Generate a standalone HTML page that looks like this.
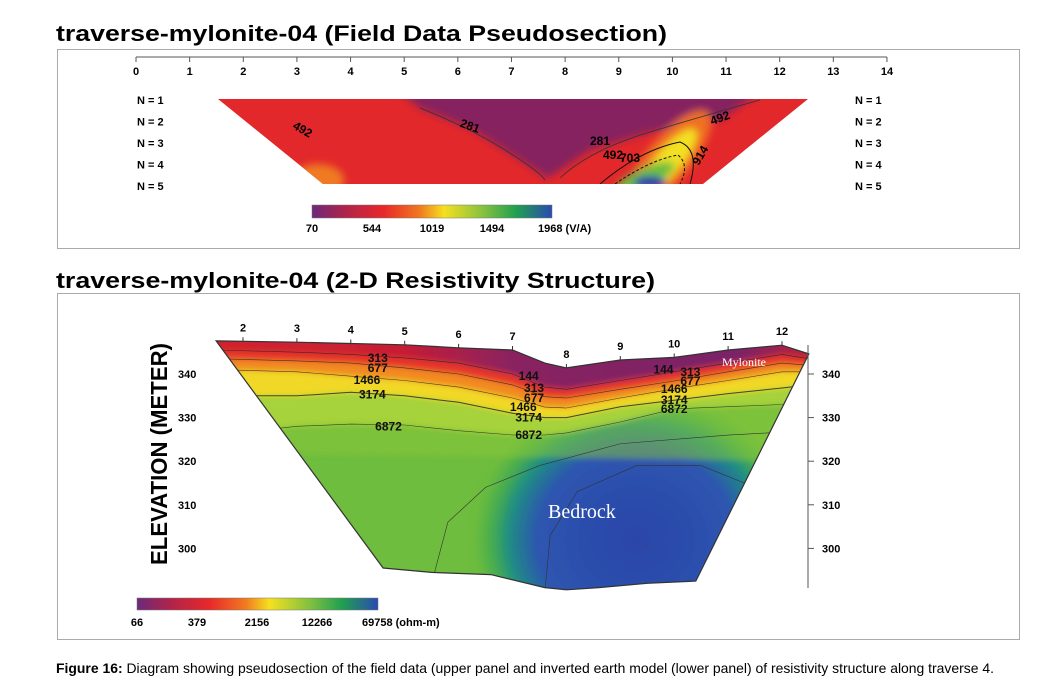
<!DOCTYPE html>
<html><head><meta charset="utf-8"><style>
html,body{margin:0;padding:0;background:#fff;}
svg{display:block;font-family:"Liberation Sans",Arial,sans-serif;}
</style></head><body>
<svg id="fig" width="1048" height="697" viewBox="0 0 1048 697" xmlns="http://www.w3.org/2000/svg">
<defs>
<linearGradient id="cb1" x1="0" x2="1" y1="0" y2="0">
<stop offset="0" stop-color="#6b2a7a"/><stop offset="0.14" stop-color="#b0244a"/><stop offset="0.3" stop-color="#e8282a"/><stop offset="0.45" stop-color="#f07a20"/><stop offset="0.55" stop-color="#f5e020"/><stop offset="0.72" stop-color="#80c040"/><stop offset="0.85" stop-color="#20a050"/><stop offset="1" stop-color="#2a4ab0"/></linearGradient>
<linearGradient id="topband" x1="0" x2="1" y1="0" y2="0">
<stop offset="0" stop-color="#d4222c"/><stop offset="0.35" stop-color="#c81f34"/><stop offset="0.5" stop-color="#8a2060"/><stop offset="0.8" stop-color="#7a2468"/><stop offset="0.9" stop-color="#c02038"/><stop offset="1" stop-color="#f08020"/></linearGradient>
<radialGradient id="bed" cx="0.5" cy="0.5" r="0.5">
<stop offset="0" stop-color="#2b45a8"/><stop offset="0.6" stop-color="#2d55b0"/><stop offset="0.78" stop-color="#1e8f82"/><stop offset="0.9" stop-color="#3aa852" stop-opacity="0.6"/><stop offset="1" stop-color="#50b448" stop-opacity="0"/></radialGradient>
<filter id="blur" x="-10%" y="-10%" width="120%" height="120%"><feGaussianBlur stdDeviation="4"/></filter>
<filter id="blur2" x="-10%" y="-10%" width="120%" height="120%"><feGaussianBlur stdDeviation="3"/></filter>
<clipPath id="trap"><polygon points="218,99 808,99 703,184 323,184"/></clipPath>
<clipPath id="sect"><path id="sectclip" d=""/></clipPath>
</defs>

<!-- top panel -->
<text x="56" y="41" font-size="22" font-weight="bold" textLength="611" lengthAdjust="spacingAndGlyphs">traverse-mylonite-04 (Field Data Pseudosection)</text>
<rect x="57.5" y="49.5" width="962" height="199" fill="none" stroke="#aaa"/>
<g id="topaxis"></g>
<g clip-path="url(#trap)">
<rect x="200" y="90" width="620" height="100" fill="#e2282b"/>
<g filter="url(#blur)">
<polygon points="400,92 760,92 720,120 650,132 590,150 548,178 505,150 470,128 420,108" fill="#85205e"/>
<ellipse cx="318" cy="180" rx="26" ry="16" fill="#f07a22"/>
<ellipse cx="668" cy="160" rx="62" ry="22" transform="rotate(-50 668 160)" fill="#f07020"/>
<ellipse cx="668" cy="162" rx="42" ry="13" transform="rotate(-50 668 162)" fill="#f2e020"/>
<ellipse cx="645" cy="178" rx="32" ry="10" transform="rotate(-25 645 178)" fill="#6cbf3c"/>
<ellipse cx="650" cy="183" rx="16" ry="7" fill="#2a3aa8"/>
</g>
<path d="M420,108 Q470,128 505,150 T545,180 M560,178 Q590,150 650,132 T760,100" fill="none" stroke="#333" stroke-width="0.8"/>
<path d="M600,184 Q640,150 680,142 Q700,150 690,184" fill="none" stroke="#111" stroke-width="1"/>
<path d="M615,184 Q650,160 678,155 Q690,165 680,184" fill="none" stroke="#111" stroke-width="1" stroke-dasharray="3,2"/>
</g>
<g font-size="12" font-weight="bold">
<text x="293" y="132" transform="rotate(30 300 128)">492</text>
<text x="460" y="130" transform="rotate(20 470 126)">281</text>
<text x="590" y="145">281</text>
<text x="603" y="159">492</text>
<text x="620" y="162">703</text>
<text x="690" y="163" transform="rotate(-60 697 157)">914</text>
<text x="710" y="122" transform="rotate(-20 720 118)">492</text>
</g>
<g id="nlabels" font-size="11" font-weight="bold"></g>
<rect x="312" y="205" width="240" height="13" fill="url(#cb1)" stroke="#777" stroke-width="0.5"/>
<g id="cb1lab" font-size="11" font-weight="bold"></g>

<!-- bottom panel -->
<text x="56" y="288" font-size="22" font-weight="bold" textLength="599" lengthAdjust="spacingAndGlyphs">traverse-mylonite-04 (2-D Resistivity Structure)</text>
<rect x="57.5" y="293.5" width="962" height="346" fill="none" stroke="#aaa"/>
<g id="section" clip-path="url(#sect)"></g>
<g id="botaxes"></g>
<text x="0" y="0" font-size="23" font-weight="bold" transform="translate(167 565) rotate(-90)" textLength="222" lengthAdjust="spacingAndGlyphs">ELEVATION (METER)</text>
<text x="548" y="518" font-size="20" fill="#fff" font-family="Liberation Serif,serif">Bedrock</text>
<text x="722" y="366" font-size="12" fill="#fff" font-family="Liberation Serif,serif">Mylonite</text>
<text x="643" y="548" font-size="12" fill="#446">↓</text>
<rect x="137" y="598" width="241" height="12" fill="url(#cb1)" stroke="#777" stroke-width="0.5"/>
<g id="cb2lab" font-size="11" font-weight="bold"></g>

<text x="56" y="673" font-size="14" textLength="938" lengthAdjust="spacingAndGlyphs"><tspan font-weight="bold">Figure 16:</tspan> Diagram showing pseudosection of the field data (upper panel and inverted earth model (lower panel) of resistivity structure along traverse 4.</text>
</svg>
<script>
const NS="http://www.w3.org/2000/svg";
const topTicks=[0,1,2,3,4,5,6,7,8,9,10,11,12,13,14];
const nLevels=["N = 1","N = 2","N = 3","N = 4","N = 5"];
const cb1Labels=["70","544","1019","1494","1968 (V/A)"];
const cb2Labels=["66","379","2156","12266","69758 (ohm-m)"];
const botTicks=[2,3,4,5,6,7,8,9,10,11,12];
const elevTicks=[340,330,320,310,300];
const dist=[1.5,3,4,5,6,7,7.6,8,9,10,11,12,12.5];
const surface=[347.6,347.3,347,346.7,346,345.5,342.5,341.4,343.2,343.8,345.5,346.6,344.6];
const c313=[345.5,345,344.5,343.7,342.5,340,337,336.5,338.5,340.5,342.5,344.5,343.5];
const c677=[343.5,343,342.5,341.4,340,337.5,334.8,334.5,336.5,338.4,340.5,342.5,342];
const c1466=[341,340.5,339.5,338.5,337,334.5,332.4,332.2,334.5,336.6,338.5,340.5,340.5];
const c3174=[335,335,335.8,335,333.5,331,330,330,332.5,334,335.5,336.8,337.5];
const c6872=[326,328,328.5,328.3,327,326,326,326.5,329,332,332.5,333,333.5];
const bottomDist=[12.5,10.4,9.5,8.6,8,7.6,6.6,5.5,4.6,1.5];
const bottomElev=[344.6,292.5,292,291,290.5,291,294,294.5,295.5,347.6];
const contourLabels=[["313",4.5,343.7],["677",4.5,341.4],["1466",4.3,338.6],["3174",4.4,335.3],["6872",4.7,328],["144",7.3,339.5],["313",7.4,336.8],["677",7.4,334.5],["1466",7.2,332.4],["3174",7.3,330],["6872",7.3,326],["144",9.8,341],["313",10.3,340.5],["677",10.3,338.4],["1466",10.0,336.6],["3174",10.0,334],["6872",10.0,332]];

const X=d=>243+(d-2)*53.9, Y=e=>374+(340-e)*4.36, TX=d=>136+d*53.64;
function el(tag,attrs,parent,txt){const e=document.createElementNS(NS,tag);for(const k in attrs)e.setAttribute(k,attrs[k]);if(txt!==undefined)e.textContent=txt;parent.appendChild(e);return e;}
const g=id=>document.getElementById(id);

const ta=g('topaxis');
el('line',{x1:TX(0),x2:TX(14),y1:57,y2:57,stroke:'#555'},ta);
topTicks.forEach(t=>{el('line',{x1:TX(t),x2:TX(t),y1:57,y2:62,stroke:'#555'},ta);
 const tx=el('text',{x:TX(t),y:75,'font-size':11,'font-weight':'bold','text-anchor':'middle'},ta,String(t));
 
 });
nLevels.forEach((n,i)=>{const y=104+i*21.5;
 const a=el('text',{x:137,y:y},g('nlabels'),n);
 
 
 const b=el('text',{x:855,y:y},g('nlabels'),n);
 
 });
cb1Labels.forEach((l,i)=>{const t=el('text',{x:312+i*60,y:232,'text-anchor':i==4?'start':'middle'},g('cb1lab'),l);
 if(i==4)t.setAttribute('x',538);
 
 });
cb2Labels.forEach((l,i)=>{const t=el('text',{x:137+i*60,y:626,'text-anchor':i==4?'start':'middle'},g('cb2lab'),l);
 if(i==4)t.setAttribute('x',362);
 
 });

const line=(arr)=>dist.map((d,i)=>X(d).toFixed(1)+','+Y(arr[i]).toFixed(1));
const outline='M'+line(surface).join(' L')+' '+bottomDist.map((d,i)=>'L'+X(d).toFixed(1)+','+Y(bottomElev[i]).toFixed(1)).join(' ')+'Z';
g('sectclip').setAttribute('d',outline);
const sec=g('section');
el('rect',{x:200,y:320,width:640,height:300,fill:'#6fbd3e'},sec);
const bands=[[c3174,c6872,'#a6d23a'],[c1466,c3174,'#f2d828'],[c677,c1466,'#f28a22'],[c313,c677,'#e6342a']];
const blurG=el('g',{filter:'url(#blur2)'},sec);
el('ellipse',{cx:X(9.3),cy:Y(302),rx:165,ry:150,fill:'url(#bed)'},blurG);
el('path',{d:'M'+line(c6872).join(' L')+' L'+X(12.5)+','+Y(320)+' L'+X(1.5)+','+Y(322)+'Z',fill:'#8cc83a',opacity:0.5},blurG);
bands.forEach(([a,b,c])=>{const p=el('path',{d:'M'+X(0)+','+Y(a[0])+' L'+line(a).join(' L')+' L'+X(14)+','+Y(a[a.length-1])+' L'+X(14)+','+Y(b[b.length-1])+' L'+line(b).reverse().join(' L')+' L'+X(0)+','+Y(b[0])+'Z',fill:c},blurG);
 
 });
const tb=el('path',{d:'M'+X(0)+','+Y(360)+' L'+X(14)+','+Y(360)+' L'+X(14)+','+Y(c313[c313.length-1])+' L'+line(c313).reverse().join(' L')+' L'+X(0)+','+Y(c313[0])+'Z',fill:'url(#topband)'},blurG);


[c313,c677,c1466,c3174,c6872].forEach((c,i)=>{const p=el('polyline',{points:line(c).join(' '),fill:'none',stroke:'#222','stroke-width':i==3?1:0.6,opacity:0.8},sec);
 
 });
el('path',{d:'M'+X(5.5)+','+Y(292)+' L'+X(5.8)+','+Y(306)+' L'+X(6.5)+','+Y(314)+' L'+X(7.5)+','+Y(319)+' L'+X(9)+','+Y(324)+' L'+X(11)+','+Y(326)+' L'+X(12.5)+','+Y(327),fill:'none',stroke:'#333','stroke-width':0.6},sec);
el('path',{d:'M'+X(7.6)+','+Y(290)+' L'+X(7.7)+','+Y(303)+' L'+X(8.2)+','+Y(313)+' L'+X(9.3)+','+Y(319)+' L'+X(10.5)+','+Y(319)+' L'+X(11.3)+','+Y(315),fill:'none',stroke:'#333','stroke-width':0.6},sec);
el('path',{d:outline,fill:'none',stroke:'#333','stroke-width':1.2},g('botaxes'));
contourLabels.forEach(([t,d,e])=>{const tx=el('text',{x:X(d),y:Y(e)+4,'font-size':12,'font-weight':'bold','text-anchor':'middle',fill:'#111'},g('botaxes'),t);
 
 });
const ba=g('botaxes');
el('line',{x1:808,x2:808,y1:345,y2:588,stroke:'#555'},ba);
botTicks.forEach(t=>{let si=0;for(let i=0;i<dist.length-1;i++)if(t>=dist[i]&&t<=dist[i+1])si=i;
 const f=(t-dist[si])/(dist[si+1]-dist[si]);const e=surface[si]+f*(surface[si+1]-surface[si]);
 el('line',{x1:X(t),x2:X(t),y1:Y(e)-4,y2:Y(e),stroke:'#333'},ba);
 const tx=el('text',{x:X(t),y:Y(e)-10,'font-size':11,'font-weight':'bold','text-anchor':'middle'},ba,String(t));
 
 });
elevTicks.forEach(e=>{const a=el('text',{x:178,y:Y(e)+4,'font-size':11,'font-weight':'bold'},ba,String(e));
 
 
 el('line',{x1:808,x2:814,y1:Y(e),y2:Y(e),stroke:'#555'},ba);
 const b=el('text',{x:822,y:Y(e)+4,'font-size':11,'font-weight':'bold'},ba,String(e));
 
 });
</script>
</body></html>
